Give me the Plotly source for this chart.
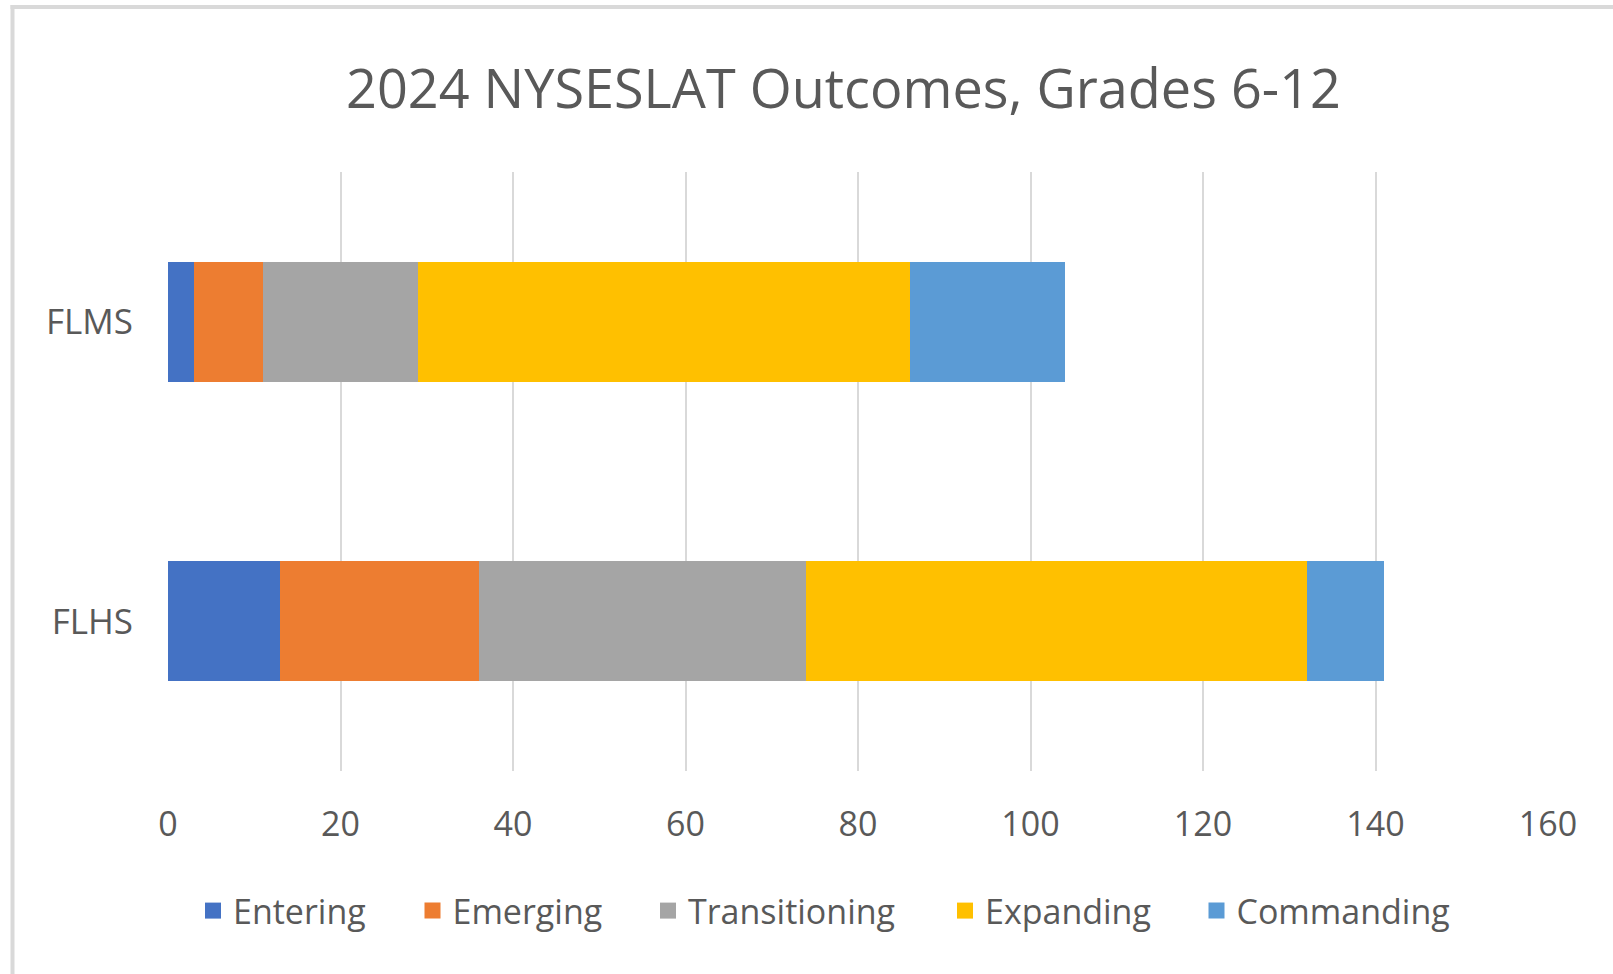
import plotly.graph_objects as go

schools = ["FLHS", "FLMS"]
levels = ["Entering", "Emerging", "Transitioning", "Expanding", "Commanding"]
entering = [13, 3]
emerging = [23, 8]
transitioning = [38, 18]
expanding = [58, 57]
commanding = [9, 18]
colors = ["#4472C4", "#ED7D31", "#A5A5A5", "#FFC000", "#5B9BD5"]
x_ticks = [0, 20, 40, 60, 80, 100, 120, 140, 160]

series = [entering, emerging, transitioning, expanding, commanding]

W, H = 1613, 974
L, R, T, B = 168, 65, 172, 203
pw, ph = W - L - R, H - T - B

def px(x):
    return (x - L) / pw

def py(y):
    return (H - B - y) / ph

# legend symbol centres (pixels)
legend_cx = [218, 437.5, 673, 970, 1221.5]
legend_names = ["legend", "legend2", "legend3", "legend4", "legend5"]

fig = go.Figure()
for name, vals, c in zip(levels, series, colors):
    fig.add_trace(go.Bar(y=schools, x=vals, name=name, orientation="h",
                         marker=dict(color=c, line=dict(width=0)), width=0.4,
                         showlegend=False))
for name, c, lg in zip(levels, colors, legend_names):
    fig.add_trace(go.Scatter(x=[None], y=[None], mode="markers", name=name,
                             marker=dict(symbol="square", size=20, color=c),
                             legend=lg, showlegend=True, hoverinfo="skip"))

font_family = "Open Sans, Noto Sans, DejaVu Sans, sans-serif"
legend_font = dict(size=34, color="#595959", family=font_family)
legends = {}
for lg, cx in zip(legend_names, legend_cx):
    legends[lg] = dict(orientation="h", x=px(cx - 25), xanchor="left", y=py(911),
                       yanchor="middle", font=legend_font, bgcolor="rgba(0,0,0,0)",
                       borderwidth=0, itemwidth=30)

fig.update_layout(
    width=W, height=H,
    barmode="stack",
    paper_bgcolor="white", plot_bgcolor="white",
    margin=dict(l=L, r=R, t=T, b=B, autoexpand=False),
    font=dict(family=font_family, color="#595959", size=33),
    title=dict(text="2024 NYSESLAT Outcomes, Grades 6-12", x=px(843.5), xref="paper",
               xanchor="center", y=1 - 89 / H, yanchor="middle",
               font=dict(size=54, color="#595959")),
    xaxis=dict(range=[0, 160], tickvals=x_ticks, showgrid=True, gridcolor="#D9D9D9",
               gridwidth=2, zeroline=False, showline=False, ticks="",
               ticklabelstandoff=30,
               tickfont=dict(size=34, color="#595959")),
    yaxis=dict(showgrid=False, zeroline=False, showline=False, ticks="",
               ticklabelstandoff=34,
               tickfont=dict(size=35, color="#595959"), range=[-0.5, 1.5]),
    showlegend=True,
    shapes=[
        dict(type="line", xref="paper", yref="paper", x0=px(12.5), x1=px(12.5), y0=py(5), y1=py(974),
             line=dict(color="#D9D9D9", width=4)),
        dict(type="line", xref="paper", yref="paper", x0=px(10.5), x1=px(1613), y0=py(7), y1=py(7),
             line=dict(color="#D9D9D9", width=4)),
    ],
    **legends,
)

fig.write_html("out.html", config={"displayModeBar": False},
               post_script="document.body.style.margin='0';")
